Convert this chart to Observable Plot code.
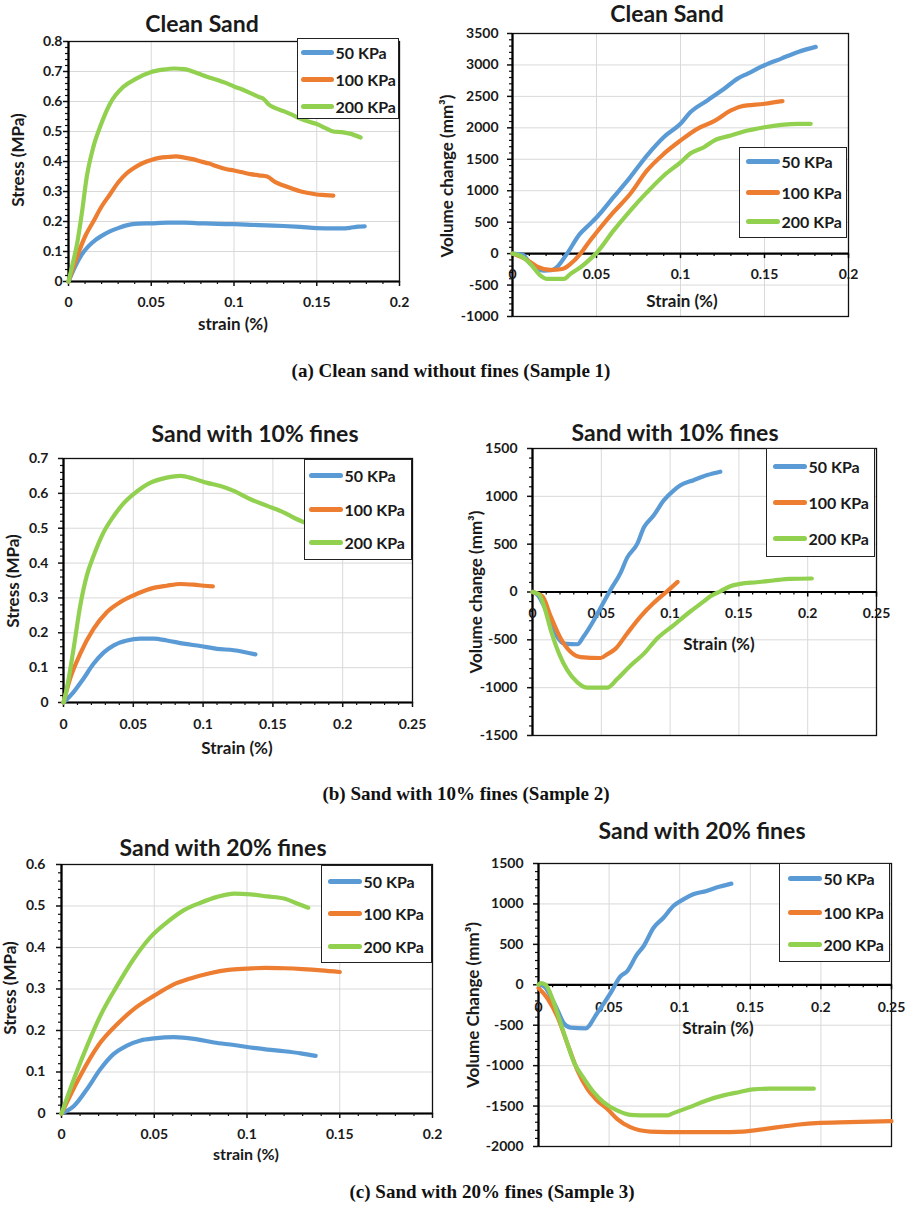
<!DOCTYPE html>
<html><head><meta charset="utf-8">
<script src="https://cdn.jsdelivr.net/npm/d3@7"></script>
<script src="https://cdn.jsdelivr.net/npm/@observablehq/plot@0.6"></script>
<style>
body{margin:0;background:#fff;}
#fig{position:relative;width:912px;height:1206px;overflow:hidden;font-family:Lato,"Open Sans",sans-serif;color:#1a1a1a;}
#fig svg{position:absolute;}
.lbl{position:absolute;white-space:nowrap;font-weight:700;line-height:1;}
.title{font-size:23px;}
.axt{font-size:17px;}
.axt.small{font-size:16px;}
.cap{font-family:"Liberation Serif","Times New Roman",serif;font-size:19px;color:#111;}
.leg{position:absolute;box-sizing:border-box;border:1.5px solid #222;background:#fff;}
.leg .smp{position:absolute;height:5px;border-radius:2.5px;}
.leg .txt{position:absolute;font-size:16px;font-weight:700;line-height:1;white-space:nowrap;transform:translateY(-50%);}
</style></head>
<body><div id="fig"></div>
<script>
// ---------- common ----------
const seriesNames = ["50 KPa", "100 KPa", "200 KPa"];
const seriesColors = ["#5b9bd5", "#ed7d31", "#92d050"];

// ---------- (a) Clean sand: stress ----------
const a_stress_x50 = [0,0.004,0.008,0.012,0.016,0.02,0.025,0.03,0.035,0.04,0.05,0.06,0.07,0.08,0.09,0.1,0.11,0.12,0.13,0.14,0.15,0.16,0.165,0.17,0.175,0.179];
const a_stress_y50 = [0,0.05,0.09,0.117,0.137,0.152,0.167,0.178,0.187,0.192,0.194,0.196,0.196,0.194,0.192,0.191,0.189,0.187,0.185,0.182,0.178,0.177,0.177,0.179,0.183,0.184];
const a_stress_x100 = [0,0.005,0.01,0.015,0.02,0.025,0.03,0.035,0.04,0.045,0.05,0.055,0.06,0.065,0.07,0.075,0.08,0.085,0.09,0.095,0.1,0.105,0.11,0.115,0.12,0.125,0.13,0.135,0.14,0.145,0.15,0.155,0.16];
const a_stress_y100 = [0,0.08,0.15,0.2,0.25,0.29,0.33,0.36,0.38,0.395,0.405,0.412,0.415,0.417,0.413,0.408,0.4,0.393,0.383,0.375,0.37,0.364,0.358,0.354,0.35,0.331,0.32,0.31,0.301,0.295,0.29,0.288,0.286];
const a_stress_x200 = [0,0.003,0.005,0.008,0.011,0.015,0.019,0.025,0.033,0.041,0.05,0.057,0.064,0.07,0.075,0.08,0.085,0.09,0.095,0.1,0.105,0.11,0.115,0.118,0.121,0.125,0.13,0.135,0.14,0.145,0.15,0.155,0.16,0.165,0.17,0.1765];
const a_stress_y200 = [0,0.07,0.12,0.225,0.348,0.448,0.514,0.592,0.648,0.676,0.698,0.706,0.71,0.708,0.7,0.69,0.68,0.672,0.662,0.65,0.64,0.628,0.615,0.608,0.59,0.578,0.568,0.556,0.543,0.533,0.525,0.512,0.5,0.498,0.493,0.48];

// ---------- (a) Clean sand: volume change ----------
const a_vol_x50 = [0,0.006,0.0107,0.0147,0.0187,0.023,0.027,0.0325,0.04,0.046,0.05,0.06,0.07,0.08,0.09,0.1,0.106,0.116,0.126,0.134,0.14,0.15,0.16,0.17,0.1805];
const a_vol_y50 = [0,-16,-164,-244,-270,-265,-200,0,309,468,574,894,1213,1559,1851,2064,2250,2436,2622,2782,2862,2995,3101,3207,3287];
const a_vol_x100 = [0,0.0087,0.0147,0.0226,0.0296,0.0345,0.0405,0.046,0.05,0.06,0.07,0.08,0.09,0.1,0.11,0.12,0.13,0.136,0.15,0.1607];
const a_vol_y100 = [0,-101,-207,-260,-244,-164,0,202,335,654,947,1319,1585,1798,1984,2106,2276,2340,2383,2425];
const a_vol_x200 = [0,0.005,0.0107,0.0167,0.0206,0.0306,0.0345,0.0405,0.0484,0.05,0.06,0.07,0.08,0.09,0.1,0.106,0.114,0.12,0.13,0.14,0.15,0.16,0.17,0.1775];
const a_vol_y200 = [0,-40,-164,-350,-403,-403,-323,-217,-32,10,362,681,973,1239,1452,1596,1692,1798,1878,1957,2010,2048,2064,2064];

// ---------- (b) 10% fines: stress ----------
const b_stress_x50 = [0,0.0072,0.0144,0.0215,0.0287,0.036,0.0455,0.055,0.0646,0.074,0.086,0.098,0.11,0.122,0.1375];
const b_stress_y50 = [0,0.03,0.069,0.111,0.143,0.164,0.178,0.183,0.183,0.178,0.169,0.162,0.154,0.15,0.138];
const b_stress_x100 = [0,0.0048,0.012,0.0215,0.031,0.0407,0.05,0.062,0.074,0.0837,0.0933,0.1005,0.107];
const b_stress_y100 = [0,0.069,0.14,0.211,0.259,0.288,0.307,0.326,0.335,0.34,0.338,0.335,0.333];
const b_stress_x200 = [0,0.0024,0.0072,0.012,0.0167,0.0215,0.0287,0.036,0.043,0.05,0.062,0.074,0.0837,0.0933,0.103,0.1124,0.122,0.134,0.146,0.158,0.165,0.173];
const b_stress_y200 = [0,0.04,0.154,0.278,0.364,0.42,0.488,0.535,0.571,0.597,0.63,0.645,0.65,0.642,0.63,0.621,0.607,0.583,0.564,0.545,0.53,0.516];

// ---------- (b) 10% fines: volume change ----------
const b_vol_x50 = [0,0.0036,0.0085,0.0133,0.018,0.023,0.0326,0.037,0.0447,0.052,0.0568,0.064,0.0688,0.076,0.081,0.088,0.0954,0.1027,0.1075,0.117,0.127,0.1365];
const b_vol_y50 = [0,-28,-151,-327,-468,-539,-546,-468,-292,-99,25,200,359,500,676,799,958,1063,1116,1169,1222,1257];
const b_vol_x100 = [0,0.0072,0.0133,0.0205,0.0278,0.035,0.0495,0.0543,0.0604,0.0688,0.0785,0.088,0.0978,0.1055];
const b_vol_y100 = [0,-46,-257,-486,-627,-680,-690,-651,-592,-433,-257,-116,7,106];
const b_vol_x200 = [0,0.0048,0.0085,0.0133,0.0193,0.0254,0.0326,0.04,0.0543,0.0616,0.0713,0.081,0.0906,0.1027,0.1147,0.1244,0.129,0.1365,0.1437,0.151,0.163,0.175,0.187,0.203];
const b_vol_y200 = [0,-28,-151,-398,-644,-820,-944,-1000,-1000,-908,-768,-644,-486,-345,-204,-99,-46,7,60,85,102,120,137,141];

// ---------- (c) 20% fines: stress ----------
const c_stress_x50 = [0,0.0067,0.0138,0.021,0.028,0.035,0.0426,0.05,0.0606,0.0714,0.0822,0.093,0.102,0.111,0.12,0.129,0.137];
const c_stress_y50 = [0,0.018,0.059,0.107,0.143,0.163,0.176,0.181,0.184,0.18,0.171,0.165,0.159,0.154,0.15,0.145,0.139];
const c_stress_x100 = [0,0.01,0.02,0.03,0.04,0.05,0.06,0.07,0.08,0.09,0.1,0.11,0.12,0.13,0.14,0.15];
const c_stress_y100 = [0,0.09,0.165,0.215,0.255,0.284,0.31,0.326,0.338,0.346,0.349,0.351,0.35,0.348,0.345,0.341];
const c_stress_x200 = [0,0.0067,0.0138,0.021,0.03,0.039,0.048,0.057,0.066,0.075,0.084,0.093,0.102,0.111,0.12,0.127,0.133];
const c_stress_y200 = [0,0.083,0.163,0.236,0.308,0.373,0.425,0.461,0.49,0.508,0.522,0.53,0.528,0.523,0.518,0.506,0.496];

// ---------- (c) 20% fines: volume change ----------
const c_vol_x50 = [0,0.004,0.0087,0.0134,0.018,0.0228,0.0333,0.0415,0.051,0.058,0.0627,0.0697,0.0744,0.0815,0.0885,0.0955,0.1026,0.1096,0.119,0.126,0.1366];
const c_vol_y50 = [0,-21,-145,-311,-477,-530,-539,-352,-104,104,166,373,477,705,829,974,1057,1119,1160,1202,1251];
const c_vol_x100 = [0,0.0063,0.0134,0.0204,0.0275,0.0345,0.0415,0.0486,0.0556,0.065,0.0791,0.1026,0.126,0.1448,0.161,0.173,0.1847,0.1965,0.22,0.25];
const c_vol_y100 = [-40,-166,-394,-725,-1057,-1285,-1430,-1533,-1658,-1761,-1815,-1823,-1823,-1815,-1782,-1753,-1728,-1711,-1699,-1687];
const c_vol_x200 = [0,0.0017,0.005,0.011,0.0157,0.0204,0.025,0.0322,0.039,0.046,0.0556,0.065,0.079,0.0908,0.0955,0.107,0.119,0.131,0.1425,0.152,0.1636,0.1777,0.195];
const c_vol_y200 = [0,20,0,-228,-477,-725,-953,-1160,-1326,-1450,-1554,-1608,-1616,-1616,-1587,-1513,-1430,-1368,-1326,-1293,-1285,-1285,-1285];

// ---------- ticks ----------
const a_stress_xTicks = [0,0.05,0.1,0.15,0.2];
const a_stress_yTicks = [0,0.1,0.2,0.3,0.4,0.5,0.6,0.7,0.8];
const a_vol_xTicks = [0,0.05,0.1,0.15,0.2];
const a_vol_yTicks = [-1000,-500,0,500,1000,1500,2000,2500,3000,3500];
const b_stress_xTicks = [0,0.05,0.1,0.15,0.2,0.25];
const b_stress_yTicks = [0,0.1,0.2,0.3,0.4,0.5,0.6,0.7];
const b_vol_xTicks = [0,0.05,0.1,0.15,0.2,0.25];
const b_vol_yTicks = [-1500,-1000,-500,0,500,1000,1500];
const c_stress_xTicks = [0,0.05,0.1,0.15,0.2];
const c_stress_yTicks = [0,0.1,0.2,0.3,0.4,0.5,0.6];
const c_vol_xTicks = [0,0.05,0.1,0.15,0.2,0.25];
const c_vol_yTicks = [-2000,-1500,-1000,-500,0,500,1000,1500];

// ---------- text ----------
const titles = ["Clean Sand", "Clean Sand", "Sand with 10% fines", "Sand with 10% fines", "Sand with 20% fines", "Sand with 20% fines"];
const xTitles = ["strain (%)", "Strain (%)", "Strain (%)", "Strain (%)", "strain (%)", "Strain (%)"];
const yTitles = ["Stress (MPa)", "Volume change (mm³)", "Stress (MPa)", "Volume change (mm³)", "Stress (MPa)", "Volume Change (mm³)"];
const captions = ["(a)  Clean sand without fines (Sample 1)", "(b) Sand with 10% fines (Sample 2)", "(c)  Sand with 20% fines (Sample 3)"];

// ---------- helpers ----------
const fmt = d => String(+d.toFixed(3));
const fig = document.getElementById("fig");
function minor(major, step) {
  const lo = major[0], hi = major[major.length - 1];
  return d3.range(lo, hi + step / 2, step).filter(v => !major.some(m => Math.abs(m - v) < step / 4));
}
function series(xs, ys, k) { return {data: xs.map((x, i) => ({strain: x, value: ys[i]})), k}; }
function addLabel(txt, x, y, cls, rot) {
  const el = document.createElement("div");
  el.className = "lbl " + cls;
  el.textContent = txt;
  el.style.left = x + "px"; el.style.top = y + "px";
  el.style.transform = "translate(-50%,-50%)" + (rot ? " rotate(-90deg)" : "");
  fig.appendChild(el);
}
function addLegend(L) {
  const box = document.createElement("div");
  box.className = "leg";
  Object.assign(box.style, {left: L.x0 + "px", top: L.y0 + "px", width: (L.x1 - L.x0) + "px", height: (L.y1 - L.y0) + "px"});
  seriesNames.forEach((n, i) => {
    const s = document.createElement("div");
    s.className = "smp";
    Object.assign(s.style, {left: (L.sx0 - L.x0 - 1.5) + "px", top: (L.rows[i] - L.y0 - 4) + "px", width: (L.sx1 - L.sx0) + "px", background: seriesColors[i]});
    box.appendChild(s);
    const t = document.createElement("div");
    t.className = "txt";
    t.textContent = n;
    Object.assign(t.style, {left: (L.sx1 - L.x0 + 0.5) + "px", top: (L.rows[i] - L.y0 - 1.5) + "px"});
    box.appendChild(t);
  });
  fig.appendChild(box);
}

function panel(p) {
  const mL = Math.min(p.x0, 62), mT = 10, mR = 14, mB = 36;
  const iw = p.x1 - p.x0, ih = p.y1 - p.y0;
  const pxPerY = ih / (p.yDomain[1] - p.yDomain[0]);
  const xMinor = minor(p.xTicks, 0.01);
  const yMinor = minor(p.yTicks, p.yMinorStep);
  const marks = [
    Plot.gridX(p.xTicks, {stroke: "#d9d9d9", strokeOpacity: 1, strokeWidth: 1}),
    Plot.gridY(p.yTicks, {stroke: "#d9d9d9", strokeOpacity: 1, strokeWidth: 1}),
    Plot.frame({stroke: "#111", strokeWidth: 1.3}),
    Plot.axisY({ticks: p.yTicks, tickSize: 5, tickPadding: p.yPad, tickFormat: fmt, label: null, stroke: "#111", strokeWidth: 1.5, fontSize: 14, fontWeight: 700}),
    Plot.axisY({ticks: yMinor, tickSize: 3, tickFormat: () => "", label: null, stroke: "#111", strokeWidth: 1.2}),
    Plot.ruleX([p.xDomain[0]], {stroke: "#000", strokeWidth: 2.2}),
  ];
  if (p.zeroAxis) {
    marks.push(
      Plot.ruleY([0], {stroke: "#000", strokeWidth: 2.2}),
      Plot.ruleX(p.xTicks, {x: d => d, y1: 0, y2: -5 / pxPerY, stroke: "#000", strokeWidth: 1.5}),
      Plot.ruleX(xMinor, {x: d => d, y1: 0, y2: -3 / pxPerY, stroke: "#000", strokeWidth: 1.2}),
      Plot.text(p.xTicks, {x: d => d, y: 0, dy: p.xDy, text: fmt, fontSize: 14, fontWeight: 700, fill: "#1a1a1a"})
    );
  } else {
    marks.push(
      Plot.ruleY([p.yDomain[0]], {stroke: "#000", strokeWidth: 2.2}),
      Plot.axisX({ticks: p.xTicks, tickSize: 5, tickPadding: p.xPad, tickFormat: fmt, label: null, stroke: "#111", strokeWidth: 1.5, fontSize: 14, fontWeight: 700}),
      Plot.axisX({ticks: xMinor, tickSize: 3, tickFormat: () => "", label: null, stroke: "#111", strokeWidth: 1.2})
    );
  }
  p.series.forEach(s => {
    marks.push(Plot.line(s.data, {x: "strain", y: "value", stroke: seriesColors[s.k], strokeWidth: 4.2, curve: "monotone-x", strokeLinecap: "round", strokeLinejoin: "round"}));
  });
  const svg = Plot.plot({
    width: mL + iw + mR, height: mT + ih + mB,
    marginLeft: mL, marginRight: mR, marginTop: mT, marginBottom: mB,
    x: {domain: p.xDomain, axis: null},
    y: {domain: p.yDomain, axis: null},
    style: {background: "transparent", fontFamily: "Lato, 'Open Sans', sans-serif", fontWeight: 700, fontSize: "14px", color: "#1a1a1a", overflow: "visible"},
    marks
  });
  svg.style.left = (p.x0 - mL) + "px";
  svg.style.top = (p.y0 - mT) + "px";
  fig.appendChild(svg);
  addLabel(p.title, p.titlePos[0], p.titlePos[1], "title");
  addLabel(p.xTitle, p.xTitlePos[0], p.xTitlePos[1], p.xTitleCls || "axt");
  addLabel(p.yTitle, p.yTitlePos[0], p.yTitlePos[1], "axt", true);
  addLegend(p.legend);
}

const panels = [
  {x0: 68, x1: 399, y0: 41, y1: 281, xDomain: [0, 0.2], yDomain: [0, 0.8], xTicks: a_stress_xTicks, yTicks: a_stress_yTicks, yMinorStep: 0.02, yPad: 1, xPad: 11,
   series: [series(a_stress_x50, a_stress_y50, 0), series(a_stress_x100, a_stress_y100, 1), series(a_stress_x200, a_stress_y200, 2)],
   title: titles[0], titlePos: [202, 23], xTitle: xTitles[0], xTitlePos: [233, 323], yTitle: yTitles[0], yTitlePos: [17, 160],
   legend: {x0: 297, x1: 399, y0: 38, y1: 119, sx0: 301, sx1: 334, rows: [53, 80, 107]}},
  {x0: 512, x1: 848, y0: 33, y1: 316, xDomain: [0, 0.2], yDomain: [-1000, 3500], xTicks: a_vol_xTicks, yTicks: a_vol_yTicks, yMinorStep: 100, yPad: 9, zeroAxis: true, xDy: 21,
   series: [series(a_vol_x50, a_vol_y50, 0), series(a_vol_x100, a_vol_y100, 1), series(a_vol_x200, a_vol_y200, 2)],
   title: titles[1], titlePos: [667, 13], xTitle: xTitles[1], xTitlePos: [682, 300], yTitle: yTitles[1], yTitlePos: [446, 176],
   legend: {x0: 739, x1: 847, y0: 147, y1: 238, sx0: 746, sx1: 780, rows: [162, 193, 222]}},
  {x0: 63, x1: 412, y0: 458, y1: 702, xDomain: [0, 0.25], yDomain: [0, 0.7], xTicks: b_stress_xTicks, yTicks: b_stress_yTicks, yMinorStep: 0.02, yPad: 10, xPad: 12,
   series: [series(b_stress_x50, b_stress_y50, 0), series(b_stress_x100, b_stress_y100, 1), series(b_stress_x200, b_stress_y200, 2)],
   title: titles[2], titlePos: [255, 433], xTitle: xTitles[2], xTitlePos: [237, 747], yTitle: yTitles[2], yTitlePos: [12, 581],
   legend: {x0: 304, x1: 412, y0: 459, y1: 560, sx0: 309, sx1: 343, rows: [476, 510, 543]}},
  {x0: 532, x1: 876, y0: 448, y1: 735, xDomain: [0, 0.25], yDomain: [-1500, 1500], xTicks: b_vol_xTicks, yTicks: b_vol_yTicks, yMinorStep: 100, yPad: 10, zeroAxis: true, xDy: 22,
   series: [series(b_vol_x50, b_vol_y50, 0), series(b_vol_x100, b_vol_y100, 1), series(b_vol_x200, b_vol_y200, 2)],
   title: titles[3], titlePos: [675, 432], xTitle: xTitles[3], xTitlePos: [719, 643], yTitle: yTitles[3], yTitlePos: [475, 592],
   legend: {x0: 766, x1: 875, y0: 448, y1: 557, sx0: 773, sx1: 807, rows: [467, 503, 539]}},
  {x0: 61, x1: 432, y0: 864, y1: 1113, xDomain: [0, 0.2], yDomain: [0, 0.6], xTicks: c_stress_xTicks, yTicks: c_stress_yTicks, yMinorStep: 0.02, yPad: 11, xPad: 11,
   series: [series(c_stress_x50, c_stress_y50, 0), series(c_stress_x100, c_stress_y100, 1), series(c_stress_x200, c_stress_y200, 2)],
   title: titles[4], titlePos: [223, 847], xTitle: xTitles[4], xTitlePos: [246, 1154], xTitleCls: "axt small", yTitle: yTitles[4], yTitlePos: [9, 988],
   legend: {x0: 321, x1: 432, y0: 865, y1: 963, sx0: 328, sx1: 362, rows: [882, 914, 947]}},
  {x0: 538, x1: 891, y0: 863, y1: 1146, xDomain: [0, 0.25], yDomain: [-2000, 1500], xTicks: c_vol_xTicks, yTicks: c_vol_yTicks, yMinorStep: 100, yPad: 10, zeroAxis: true, xDy: 23,
   series: [series(c_vol_x50, c_vol_y50, 0), series(c_vol_x100, c_vol_y100, 1), series(c_vol_x200, c_vol_y200, 2)],
   title: titles[5], titlePos: [702, 830], xTitle: xTitles[5], xTitlePos: [718, 1027], yTitle: yTitles[5], yTitlePos: [472, 1005],
   legend: {x0: 779, x1: 890, y0: 863, y1: 962, sx0: 788, sx1: 822, rows: [879, 913, 945]}}
];
panels.forEach(panel);

addLabel(captions[0], 451, 370, "cap");
addLabel(captions[1], 466, 793, "cap");
addLabel(captions[2], 492, 1191, "cap");
</script>
</body></html>
